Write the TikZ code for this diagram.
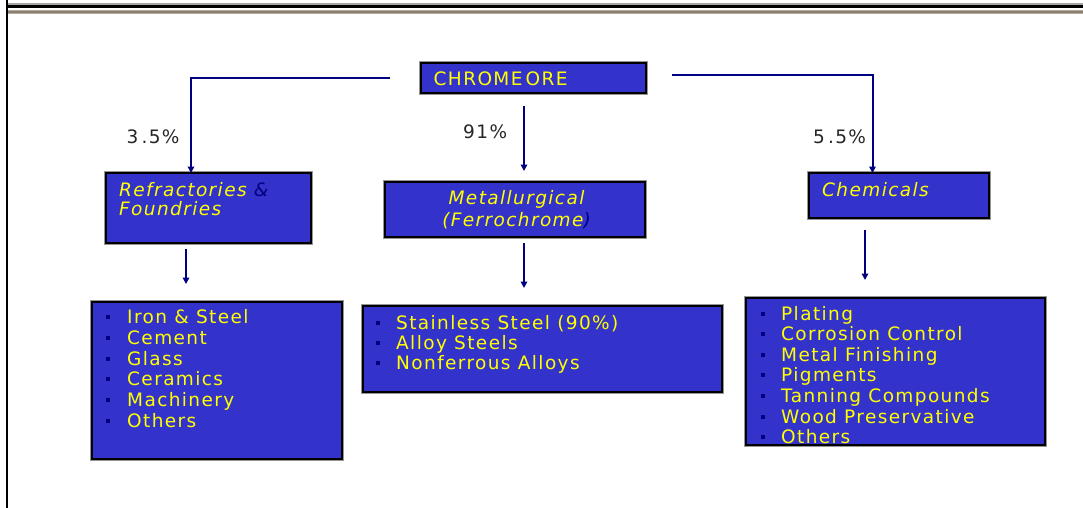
\documentclass[tikz,border=0pt]{standalone}
\usepackage{fontspec}
\setmainfont{DejaVu Sans}
\newfontfamily\slidefont[LetterSpace=7.5]{DejaVu Sans}
\usetikzlibrary{arrows.meta}
\definecolor{boxblue}{RGB}{51,51,204}
\definecolor{txtyellow}{RGB}{255,255,0}
\definecolor{navy}{RGB}{0,0,128}
\definecolor{rulegray}{RGB}{140,128,112}
\definecolor{rulelight}{RGB}{178,168,155}
\definecolor{edgegray}{RGB}{150,150,150}

\begin{document}
\begin{tikzpicture}[x=1pt,y=-1pt,
  panel/.style={draw=black, line width=2.3pt, fill=boxblue, inner sep=0pt, outer sep=0pt,
                anchor=north west, preaction={draw=edgegray, line width=3.6pt}},
  lbl/.style={anchor=base west, inner sep=0pt, text=txtyellow,
              font=\slidefont\fontsize{18.5}{20}\selectfont},
  ilbl/.style={lbl, font=\slidefont\itshape\fontsize{18.5}{20}\selectfont},
  pct/.style={anchor=base west, inner sep=0pt, text=black!85,
              font=\slidefont\fontsize{18.5}{20}\selectfont},
  bulletsq/.style={fill=navy, inner sep=0pt, minimum width=4.5pt, minimum height=4pt},
  conn/.style={draw=navy, line width=2pt, -{Triangle[width=6.5pt,length=6.5pt]}}]

\useasboundingbox (0,0) rectangle (1083,508);
\fill[white] (0,0) rectangle (1083,508);

% page frame: rules at the top and the left margin line
\fill[gray!70] (7,3.4) rectangle (1083,4.6);
\fill[black] (7,4.6) rectangle (1083,7.6);
\fill[rulelight] (7,10) rectangle (1083,14.4);
\fill[rulegray] (7,11) rectangle (1083,13.4);
\fill[black] (5.6,0) rectangle (7.8,508);

% source box
\node[panel, minimum width=225pt, minimum height=30pt] (ore) at (421,63) {};
\node[lbl] (oret) at (433.5,85.3) {CHROME\,ORE};

% end-use boxes
\node[panel, minimum width=205pt, minimum height=70pt] (refr) at (106,173) {};
\node[ilbl] (refrt1) at (119,196) {Refractories \textcolor{navy}{\&}};
\node[ilbl] (refrt2) at (119,215.3) {Foundries};

\node[panel, minimum width=260pt, minimum height=55pt] (met) at (385,182) {};
\node[ilbl, anchor=base] (mett1) at (516.5,204) {Metallurgical};
\node[ilbl, anchor=base] (mett2) at (516.5,226) {(Ferrochrome\textcolor{navy}{)}};

\node[panel, minimum width=180pt, minimum height=45pt] (chem) at (809,173) {};
\node[ilbl] (chemt) at (822,196.5) {Chemicals};

% application lists
\node[panel, minimum width=250pt, minimum height=157pt] (lr) at (92,302) {};
\foreach \t [count=\i] in {Iron \& Steel, Cement, Glass, Ceramics, Machinery, Others} {
  \node[bulletsq] (lrb\i) at (108,{317+20.75*(\i-1)}) {};
  \node[lbl] (lrt\i) at (127,{323.5+20.75*(\i-1)}) {\t};
}

\node[panel, minimum width=359pt, minimum height=86pt] (lm) at (363,306) {};
\foreach \t [count=\i] in {Stainless Steel (90\%), Alloy Steels, Nonferrous Alloys} {
  \node[bulletsq] (lmb\i) at (378,{323+20*(\i-1)}) {};
  \node[lbl] (lmt\i) at (396,{329.3+20*(\i-1)}) {\t};
}

\node[panel, minimum width=299pt, minimum height=147pt] (lc) at (746,298) {};
\foreach \t [count=\i] in {Plating, Corrosion Control, Metal Finishing, Pigments,
                           Tanning Compounds, Wood Preservative, Others} {
  \node[bulletsq] (lcb\i) at (763,{313.5+20.6*(\i-1)}) {};
  \node[lbl] (lct\i) at (781,{320+20.6*(\i-1)}) {\t};
}

% share labels
\node[pct] (p1) at (126.5,143.3) {3\,.5\%};
\node[pct] (p2) at (463,139) {91\%};
\node[pct] (p3) at (813,143.3) {5\,.5\%};

% connectors from the source
\coordinate (cl) at (390,77.7);
\coordinate (cr) at (672,74.7);
\coordinate (cm1) at (524,106);
\coordinate (cm2) at (524,171);
\draw[conn] (cl) -| ([xshift=-17.5pt]refr.north);
\draw[conn] (cr) -| ([xshift=-26.5pt]chem.north);
\draw[conn] (cm1) -- (cm2);

% connectors to the lists
\coordinate (dl1) at (186,249);
\coordinate (dl2) at (186,284);
\coordinate (dm1) at (524,243);
\coordinate (dm2) at (524,288);
\coordinate (dc1) at (865,230);
\coordinate (dc2) at (865,280);
\draw[conn] (dl1) -- (dl2);
\draw[conn] (dm1) -- (dm2);
\draw[conn] (dc1) -- (dc2);
\end{tikzpicture}
\end{document}
